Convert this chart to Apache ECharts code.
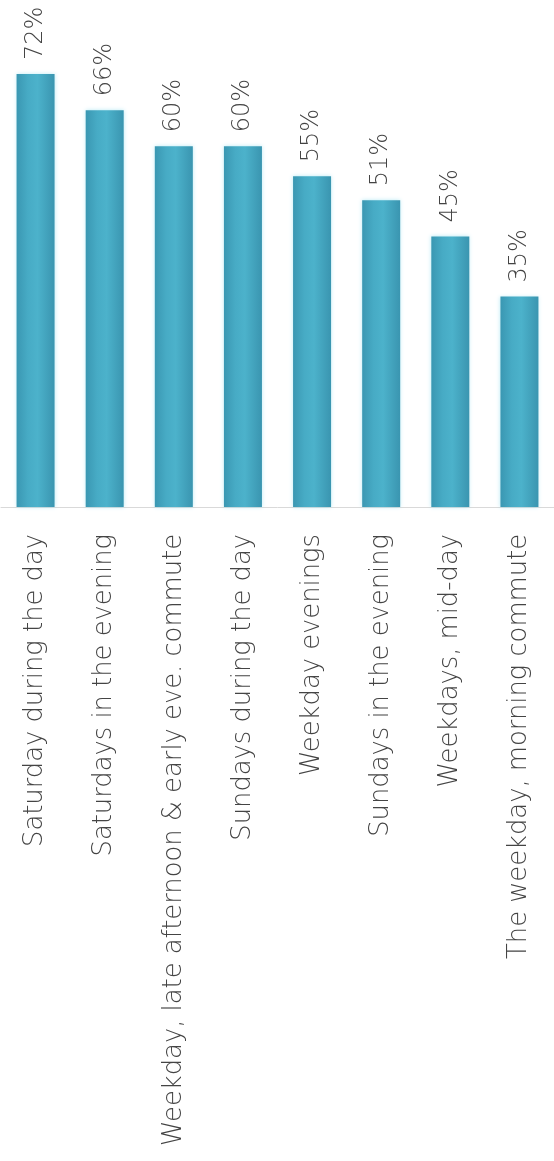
<!DOCTYPE html>
<html>
<head>
<meta charset="utf-8">
<script src="https://cdn.jsdelivr.net/npm/echarts@6/dist/echarts.min.js"></script>
<style>
  html, body { margin: 0; padding: 0; background: #ffffff; }
  #chart { width: 554px; height: 1161px; }
</style>
</head>
<body>
<div id="chart"></div>
<script>
// Share of people by time of week
const categories = [
  'Saturday during the day',
  'Saturdays in the evening',
  'Weekday, late afternoon & early eve. commute',
  'Sundays during the day',
  'Weekday evenings',
  'Sundays in the evening',
  'Weekdays, mid-day',
  'The weekday, morning commute'
];
const shares = [72, 66, 60, 60, 55, 51, 45, 35];

const chart = echarts.init(document.getElementById('chart'), null, { renderer: 'canvas' });

const barFill = new echarts.graphic.LinearGradient(0, 0, 1, 0, [
  { offset: 0, color: '#3a97b2' },
  { offset: 0.3, color: '#47abc5' },
  { offset: 0.55, color: '#4cb2cb' },
  { offset: 1, color: '#3a95b0' }
]);

chart.setOption({
  animation: false,
  backgroundColor: '#ffffff',
  grid: { left: 1, right: -6, top: 26, bottom: 654, containLabel: false },
  xAxis: {
    type: 'category',
    data: categories,
    axisLine: { show: true, lineStyle: { color: '#d9d9d9', width: 1 } },
    axisTick: { show: false },
    axisLabel: {
      interval: 0,
      rotate: 90,
      margin: 27,
      fontFamily: 'DejaVu Sans',
      fontWeight: 200,
      fontSize: 25.8,
      color: '#444444'
    }
  },
  yAxis: {
    type: 'value',
    min: 0,
    max: 80,
    show: false,
    splitLine: { show: false }
  },
  series: [{
    type: 'bar',
    data: shares,
    barWidth: 38,
    itemStyle: {
      color: barFill,
      shadowBlur: 4,
      shadowColor: 'rgba(120, 215, 235, 0.5)'
    },
    label: {
      show: true,
      position: 'top',
      rotate: 90,
      align: 'left',
      verticalAlign: 'middle',
      distance: 14,
      formatter: '{c}%',
      fontFamily: 'DejaVu Sans',
      fontWeight: 200,
      fontSize: 24,
      color: '#444444'
    }
  }]
});
</script>
</body>
</html>
